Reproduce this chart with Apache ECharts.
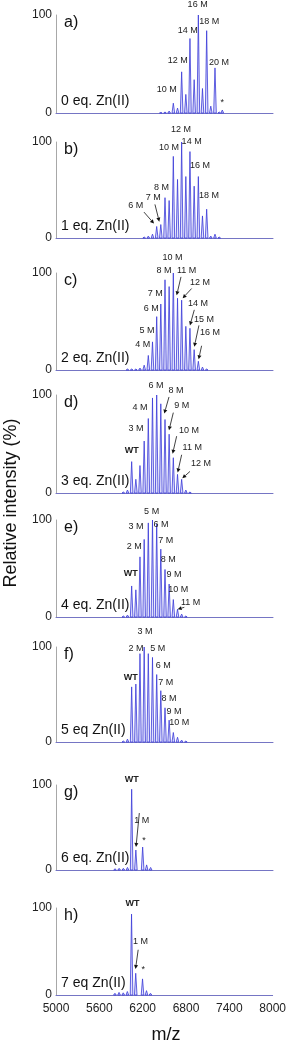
<!DOCTYPE html>
<html>
<head>
<meta charset="utf-8">
<script src="https://cdn.jsdelivr.net/npm/echarts@6/dist/echarts.min.js"></script>
<style>
html,body{margin:0;padding:0;background:#fff;}
#chart{width:289px;height:1042px;}
</style>
</head>
<body>
<div id="chart"></div>
<script>
// m/z of the adduct ladder, n = -4 .. 21 (index 4 = WT)
const ladderMz = [5816,5873,5931,5988,6046,6104,6161,6219,6276,6334,6392,6449,6507,6564,6622,6680,6737,6795,6852,6910,6968,7025,7083,7140,7198,7256];

// relative intensities (%) on the ladder for each panel
const intA = [0,0,0,0, 0,0,0,0,0,0,0,0.5,1,2,10,5,42,19,76,34,100,25,84,7,46,1];
const intB = [0,0,0,0, 0,0,0,1,2,4,12,14,42,39,85,61,100,64,90,54,64,23,30,2,4,1];
const intC = [0,0,0,1, 1,1,2,5,15,29,55,68,93,86,100,74,72,45,43,21,9,3,1,0,0,0];
const intD = [0,0,1,3, 32,14,28,53,76,97,100,91,75,60,36,19,14,3,1,0,0,0,0,0,0,0];
const intE = [0,0,1,2, 32,28,62,80,97,100,96,70,49,34,18,8,3,1,0,0,0,0,0,0,0,0];
const intF = [0,0,1,3, 58,61,93,100,93,89,71,54,36,23,10,5,2,1,0,0,0,0,0,0,0,0];
const intG = [1.5,2,2,3, 95,23.5,0,0,0,0,0,0,0,0,0,0,0,0,0,0,0,0,0,0,0,0];
const intH = [2,3,2.5,4, 93,25,0,0,0,0,0,0,0,0,0,0,0,0,0,0,0,0,0,0,0,0];

// off-ladder peaks [m/z, %]
const extraA = [[7299,3]];
const extraB = [];
const extraC = [];
const extraD = [];
const extraE = [];
const extraF = [];
const extraG = [[6198,27],[6253,6],[6308,3]];
const extraH = [[6198,18.5],[6253,5],[6308,2]];

// panel texts
const panelTags = ['a)','b)','c)','d)','e)','f)','g)','h)'];
const panelEq = ['0 eq. Zn(II)','1 eq. Zn(II)','2 eq. Zn(II)','3 eq. Zn(II)','4 eq. Zn(II)','5 eq Zn(II)','6 eq. Zn(II)','7 eq Zn(II)'];
const xTicks = [5000,5600,6200,6800,7400,8000];

// peak annotations [m/z, %, text]
const labA = [[6530,24,'10 M'],[6682,54,'12 M'],[6820,84,'14 M'],[6958,111,'16 M'],[7119,93,'18 M'],[7253,52,'20 M'],[7299,11,'*']];
const labB = [[6101,34,'6 M'],[6345,42,'7 M'],[6460,53,'8 M'],[6562,94,'10 M'],[6728,113,'12 M'],[6875,100,'14 M'],[6990,76,'16 M'],[7115,44,'18 M']];
const labC = [[6198,26,'4 M'],[6258,41,'5 M'],[6318,63,'6 M'],[6373,79,'7 M'],[6493,103,'8 M'],[6612,116,'10 M'],[6806,103,'11 M'],[6990,90,'12 M'],[6963,69,'14 M'],[7045,52,'15 M'],[7128,39,'16 M']];
const labD = [[6046,43,'WT'],[6106,66,'3 M'],[6161,87,'4 M'],[6382,110,'6 M'],[6659,105,'8 M'],[6737,89,'9 M'],[6838,64,'10 M'],[6884,46,'11 M'],[7004,30,'12 M']];
const labE = [[6032,45,'WT'],[6083,73,'2 M'],[6106,93,'3 M'],[6322,109,'5 M'],[6451,95,'6 M'],[6516,79,'7 M'],[6553,59,'8 M'],[6631,44,'9 M'],[6691,28,'10 M'],[6861,15,'11 M']];
const labF = [[6230,116,'3 M'],[6032,68,'WT'],[6106,98,'2 M'],[6405,98,'5 M'],[6483,81,'6 M'],[6516,63,'7 M'],[6562,46,'8 M'],[6631,32,'9 M'],[6705,20,'10 M']];
const labG = [[6046,106,'WT'],[6184,58,'1 M'],[6216,35,'*']];
const labH = [[6060,105,'WT'],[6170,61,'1 M'],[6207,29,'*']];

// arrows [m/z from, % from, m/z to, % to]
const arrA = [];
const arrB = [[6216,27,6355,15],[6368,35,6428,17]];
const arrC = [[6728,96,6668,77],[6875,84,6751,74],[6912,62,6852,46],[6976,46,6912,24],[7013,25,6972,11]];
const arrD = [[6562,98,6497,81],[6622,82,6562,64],[6668,58,6612,40],[6737,39,6682,21],[6852,22,6746,15]];
const arrE = [[6774,10,6682,8]];
const arrF = [];
const arrG = [[6152,67,6106,27]];
const arrH = [[6138,52,6101,30]];

const FONT = '"Liberation Sans", Arial, Helvetica, sans-serif';
const layout = [
  {top:15, h:98},{top:142, h:96},{top:273, h:97},{top:395, h:98},
  {top:520, h:97},{top:647, h:95},{top:785, h:85},{top:908, h:87}
];
const ints = [intA,intB,intC,intD,intE,intF,intG,intH];
const extras = [extraA,extraB,extraC,extraD,extraE,extraF,extraG,extraH];
const labs = [labA,labB,labC,labD,labE,labF,labG,labH];
const arrs = [arrA,arrB,arrC,arrD,arrE,arrF,arrG,arrH];
const HW = 18; // half base width of a peak, in m/z units

const grids=[], xAxes=[], yAxes=[], series=[], graphics=[];
layout.forEach((L,i)=>{
  grids.push({left:56, width:217, top:L.top, height:L.h});
  xAxes.push({type:'value', gridIndex:i, min:xTicks[0], max:xTicks[xTicks.length-1], interval:xTicks[1]-xTicks[0],
    axisLine:{show:true, lineStyle:{color:'#7575c4', width:1}},
    axisTick:{show:false}, splitLine:{show:false},
    axisLabel:{show:i===7, fontSize:12, color:'#222', margin:8, fontFamily:FONT, formatter:v=>String(v)}});
  yAxes.push({type:'value', gridIndex:i, min:0, max:100, interval:100,
    axisLine:{show:true, lineStyle:{color:'#a8a8a8', width:1}},
    axisTick:{show:false}, splitLine:{show:false},
    axisLabel:{fontSize:12, color:'#222', margin:4, fontFamily:FONT}});
  const peaks = ladderMz.map((m,k)=>[m, ints[i][k]]).concat(extras[i]).filter(d=>d[1]>0);
  series.push({type:'custom', xAxisIndex:i, yAxisIndex:i, data:peaks, z:2, silent:true,
    renderItem:(params, api)=>{
      const x = api.value(0), h = api.value(1);
      const p0 = api.coord([x-HW,0]), p1 = api.coord([x,h]), p2 = api.coord([x+HW,0]);
      return {type:'polygon', shape:{points:[p0,p1,p2]},
        style:{fill:'rgba(160,160,245,0.35)', stroke:'#3a3ad8', lineWidth:0.8}};
    }});
  const la = labs[i];
  series.push({type:'custom', xAxisIndex:i, yAxisIndex:i, data:la.map(d=>[d[0],d[1]]), z:5, silent:true, clip:false,
    renderItem:(params, api)=>{
      const d = la[params.dataIndex];
      const p = api.coord([d[0], d[1]]);
      return {type:'text', x:p[0], y:p[1],
        style:{text:d[2], fontSize:9, fontFamily:FONT, fontWeight:d[2]==='WT'?'bold':'normal',
          fill:'#222', align:'center', verticalAlign:'middle'}};
    }});
  const ar = arrs[i];
  if (ar.length) series.push({type:'custom', xAxisIndex:i, yAxisIndex:i, data:ar, z:5, silent:true, clip:false,
    encode:{x:[0,2], y:[1,3]},
    renderItem:(params, api)=>{
      const a = api.coord([api.value(0), api.value(1)]);
      const b = api.coord([api.value(2), api.value(3)]);
      const dx=b[0]-a[0], dy=b[1]-a[1], len=Math.sqrt(dx*dx+dy*dy)||1;
      const ux=dx/len, uy=dy/len, hl=4, hw=2;
      const base=[b[0]-ux*hl, b[1]-uy*hl];
      return {type:'group', children:[
        {type:'line', shape:{x1:a[0], y1:a[1], x2:base[0], y2:base[1]}, style:{stroke:'#111', lineWidth:0.8}},
        {type:'polygon', shape:{points:[b,[base[0]-uy*hw, base[1]+ux*hw],[base[0]+uy*hw, base[1]-ux*hw]]}, style:{fill:'#111'}}
      ]};
    }});
  graphics.push({type:'text', x:64, y:L.top+8, style:{text:panelTags[i], fontSize:16, fontFamily:FONT, fill:'#111', align:'left', verticalAlign:'middle'}});
  graphics.push({type:'text', x:61, y:L.top+L.h-12, style:{text:panelEq[i], fontSize:14, fontFamily:FONT, fill:'#111', align:'left', verticalAlign:'middle'}});
});
graphics.push({type:'text', x:11, y:503, rotation:Math.PI/2, style:{text:'Relative intensity (%)', fontSize:18, fontFamily:FONT, fill:'#111', align:'center', verticalAlign:'middle'}});
graphics.push({type:'text', x:166, y:1035, style:{text:'m/z', fontSize:18, fontFamily:FONT, fill:'#111', align:'center', verticalAlign:'middle'}});

const chart = echarts.init(document.getElementById('chart'), null, {renderer:'canvas'});
chart.setOption({
  animation:false,
  backgroundColor:'#fff',
  grid:grids, xAxis:xAxes, yAxis:yAxes, series:series, graphic:graphics
});
</script>
</body>
</html>
